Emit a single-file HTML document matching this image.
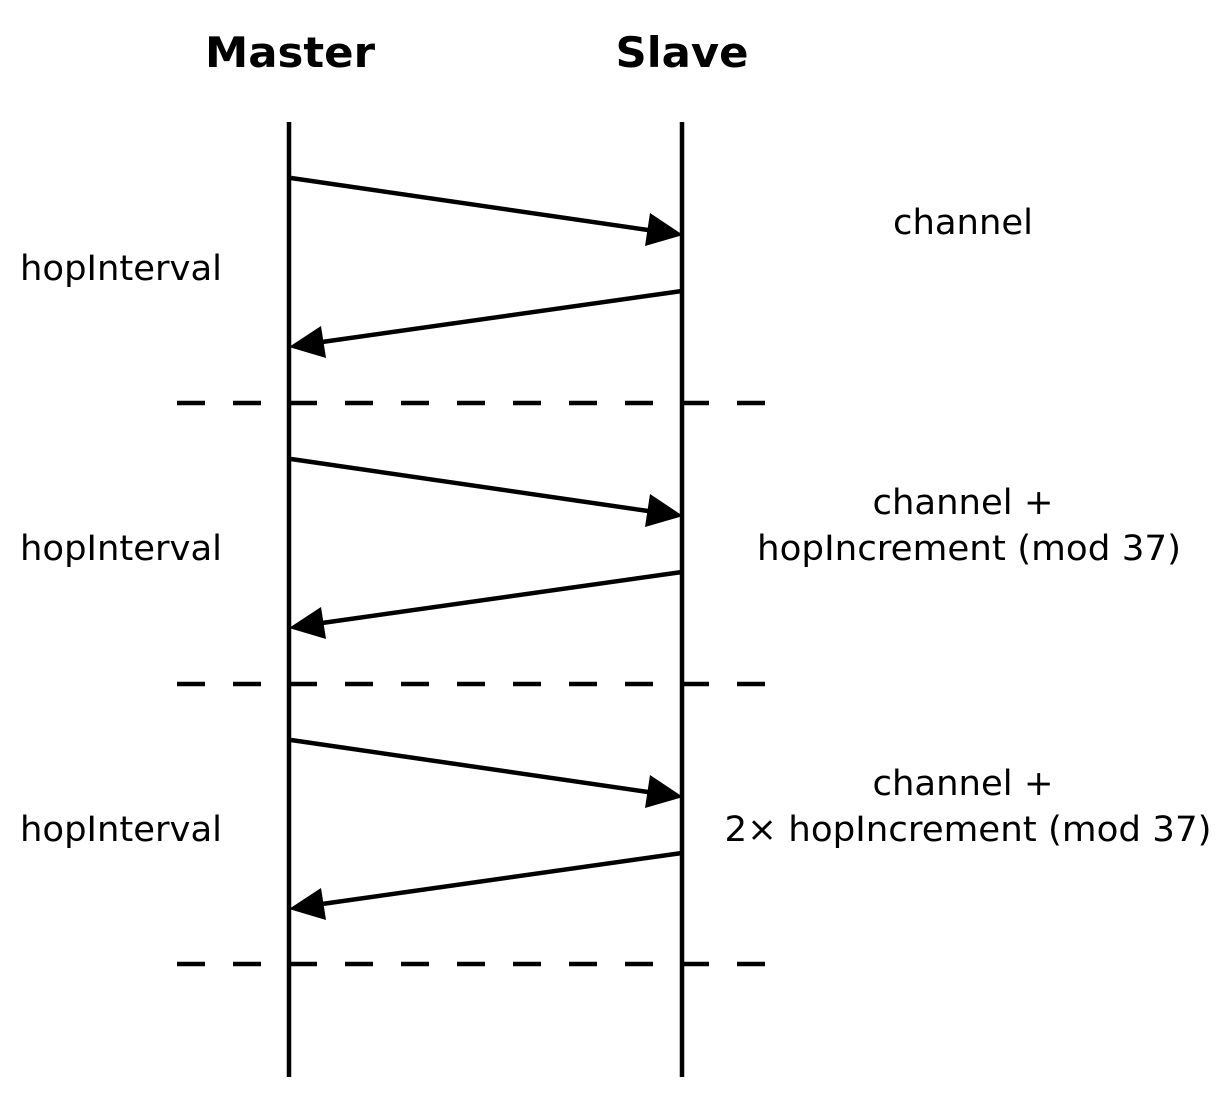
<!DOCTYPE html>
<html><head><meta charset="utf-8"><style>html,body{margin:0;padding:0;background:#fff}svg{display:block}</style></head>
<body>
<svg width="1223" height="1107" viewBox="0 0 1223 1107" xmlns="http://www.w3.org/2000/svg" font-family="DejaVu Sans, Liberation Sans, sans-serif">
<text x="290" y="67" font-size="42" font-weight="bold" text-anchor="middle" textLength="170" lengthAdjust="spacingAndGlyphs">Master</text>
<text x="682" y="67" font-size="42" font-weight="bold" text-anchor="middle" textLength="133" lengthAdjust="spacingAndGlyphs">Slave</text>
<line x1="289" y1="122" x2="289" y2="1077" stroke="#000" stroke-width="4.5"/>
<line x1="682" y1="122" x2="682" y2="1077" stroke="#000" stroke-width="4.5"/>
<g stroke="#000" stroke-width="4.5" stroke-dasharray="28 28">
<line x1="177" y1="403" x2="768" y2="403"/>
<line x1="177" y1="684" x2="768" y2="684"/>
<line x1="177" y1="964" x2="768" y2="964"/>
</g>
<defs>
<g id="pair">
<line x1="291" y1="178" x2="648" y2="230" stroke="#000" stroke-width="4.5"/>
<polygon points="683,235 645,246 650,213" fill="#000"/>
<line x1="682" y1="291" x2="322" y2="342" stroke="#000" stroke-width="4.5"/>
<polygon points="289,347 326,358 321,326" fill="#000"/>
</g>
</defs>
<use href="#pair"/>
<use href="#pair" transform="translate(0,281)"/>
<use href="#pair" transform="translate(0,562)"/>
<g font-size="35" fill="#000">
<text x="20" y="280" textLength="202" lengthAdjust="spacingAndGlyphs">hopInterval</text>
<text x="20" y="560" textLength="202" lengthAdjust="spacingAndGlyphs">hopInterval</text>
<text x="20" y="841" textLength="202" lengthAdjust="spacingAndGlyphs">hopInterval</text>
<text x="963" y="234" text-anchor="middle" textLength="140" lengthAdjust="spacingAndGlyphs">channel</text>
<text x="963" y="514" text-anchor="middle" textLength="181" lengthAdjust="spacingAndGlyphs">channel +</text>
<text x="969" y="560" text-anchor="middle" textLength="424" lengthAdjust="spacingAndGlyphs">hopIncrement (mod 37)</text>
<text x="963" y="795" text-anchor="middle" textLength="181" lengthAdjust="spacingAndGlyphs">channel +</text>
<text x="968" y="841" text-anchor="middle" textLength="487" lengthAdjust="spacingAndGlyphs">2× hopIncrement (mod 37)</text>
</g>
</svg>
</body></html>
